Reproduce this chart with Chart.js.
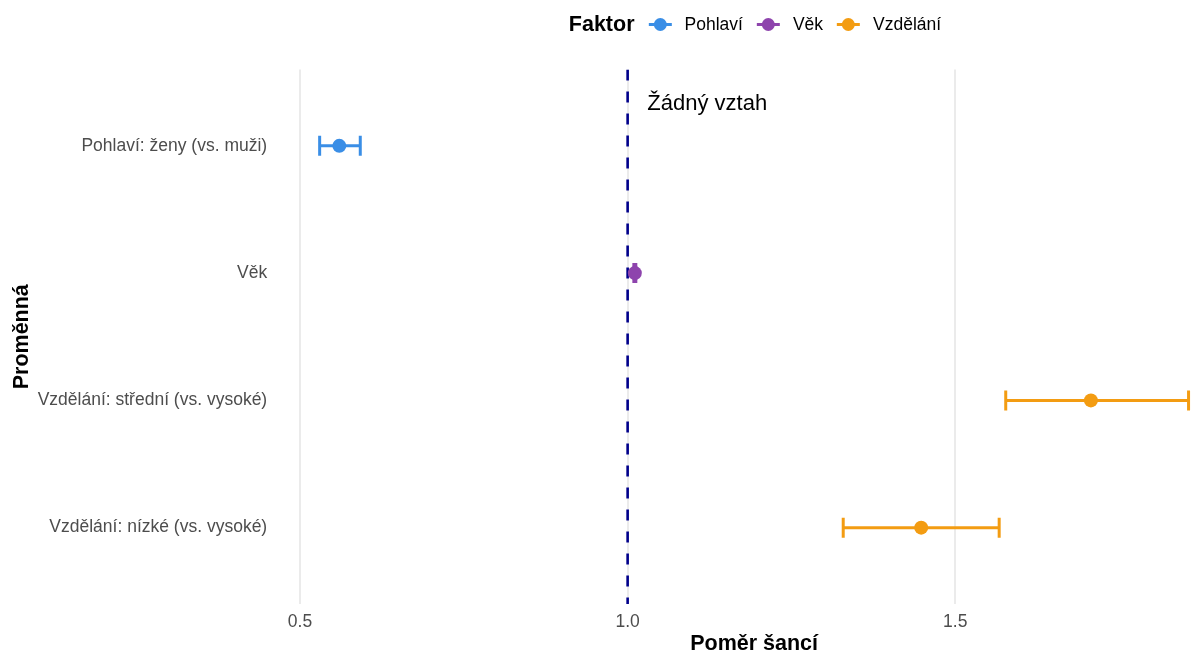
<!DOCTYPE html>
<html>
<head>
<meta charset="utf-8">
<script src="https://cdn.jsdelivr.net/npm/chart.js@4"></script>
<style>
  html, body { margin: 0; padding: 0; background: #fff; overflow: hidden; width: 1193px; height: 655px; }
  #wrap { position: relative; width: 1245px; height: 655px; }
  #legend { position: absolute; top: 12px; left: 755px; transform: translateX(-50%); display: flex; align-items: center; white-space: nowrap; font-family: 'Liberation Sans', Arial, sans-serif; }
  #legend .title { font-weight: bold; font-size: 21.5px; color: #000; margin-right: 14px; }
  #legend .item { display: flex; align-items: center; margin-right: 14px; font-size: 17.5px; color: #000; }
  #legend .item:last-child { margin-right: 0; }
  #legend .key { position: relative; width: 23px; height: 14px; margin-right: 13px; }
  #legend .key .ln { position: absolute; left: 0; right: 0; top: 5.5px; height: 3px; }
  #legend .key .pt { position: absolute; left: 5px; top: 0.5px; width: 13px; height: 13px; border-radius: 50%; }
</style>
</head>
<body>
<div id="wrap">
  <canvas id="c" width="1245" height="655"></canvas>
  <div id="legend"></div>
</div>
<script>
// ---- data ----
const categories = ['Pohlaví: ženy (vs. muži)', 'Věk', 'Vzdělání: střední (vs. vysoké)', 'Vzdělání: nízké (vs. vysoké)'];
const rowFactor = ['Pohlaví', 'Věk', 'Vzdělání', 'Vzdělání'];
const oddsRatio = [0.560, 1.011, 1.707, 1.448];
const ciLow = [0.530, 1.0095, 1.577, 1.329];
const ciHigh = [0.592, 1.0125, 1.856, 1.567];
const factorNames = ['Pohlaví', 'Věk', 'Vzdělání'];
const factorColors = ['#3a8ee6', '#8e44ad', '#f39c12'];
const xTicks = [0.5, 1.0, 1.5];
const xTickLabels = ['0.5', '1.0', '1.5'];
const legendTitle = 'Faktor';
const xTitle = 'Poměr šancí';
const yTitle = 'Proměnná';
const refLineX = 1;
const annotationText = 'Žádný vztah';
const annotationX = 1.03;
const annotationY = -0.33;

// ---- helpers ----
const colorOf = f => factorColors[factorNames.indexOf(f)];
const FONT = "'Liberation Sans', Arial, sans-serif";
const xMin = 0.4637, xMax = 1.9223;
const yMin = -0.6, yMax = categories.length - 1 + 0.6;

// HTML legend
const leg = document.getElementById('legend');
const t = document.createElement('span'); t.className = 'title'; t.textContent = legendTitle; leg.appendChild(t);
factorNames.forEach((n, i) => {
  const it = document.createElement('span'); it.className = 'item';
  const k = document.createElement('span'); k.className = 'key';
  const ln = document.createElement('span'); ln.className = 'ln'; ln.style.background = factorColors[i];
  const pt = document.createElement('span'); pt.className = 'pt'; pt.style.background = factorColors[i];
  k.appendChild(ln); k.appendChild(pt);
  const tx = document.createElement('span'); tx.textContent = n;
  it.appendChild(k); it.appendChild(tx); leg.appendChild(it);
});

const datasets = [];
// reference line
datasets.push({
  type: 'scatter', showLine: true, order: 10,
  data: [{x: refLineX, y: yMin}, {x: refLineX, y: yMax}],
  borderColor: '#00008b', borderWidth: 2.6, borderDash: [11, 11],
  pointRadius: 0, pointHoverRadius: 0
});
// error bars
categories.forEach((c, i) => {
  const col = colorOf(rowFactor[i]);
  datasets.push({
    type: 'scatter', showLine: true, order: 5,
    data: [{x: ciLow[i], y: i}, {x: ciHigh[i], y: i}],
    borderColor: col, borderWidth: 3,
    pointStyle: 'line', rotation: 90, pointRadius: 10, pointHoverRadius: 10,
    pointBorderColor: col, pointBorderWidth: 3, pointBackgroundColor: col
  });
});
// points
datasets.push({
  type: 'scatter', order: 1,
  data: categories.map((c, i) => ({x: oddsRatio[i], y: i})),
  pointRadius: 7, pointHoverRadius: 7, pointBorderWidth: 0,
  pointBackgroundColor: categories.map((c, i) => colorOf(rowFactor[i])),
  backgroundColor: categories.map((c, i) => colorOf(rowFactor[i]))
});

const annotationPlugin = {
  id: 'annot',
  afterDatasetsDraw(chart) {
    const {ctx, scales} = chart;
    ctx.save();
    ctx.font = '22px ' + FONT;
    ctx.fillStyle = '#000';
    ctx.textAlign = 'left';
    ctx.textBaseline = 'middle';
    ctx.fillText(annotationText, scales.x.getPixelForValue(annotationX), scales.y.getPixelForValue(annotationY));
    ctx.restore();
  }
};

new Chart(document.getElementById('c'), {
  type: 'scatter',
  data: { datasets },
  plugins: [annotationPlugin],
  options: {
    responsive: false, animation: false, devicePixelRatio: 1,
    layout: { padding: { left: 9, top: 69.5, right: 4.5, bottom: 0 } },
    plugins: { legend: { display: false }, tooltip: { enabled: false } },
    scales: {
      x: {
        type: 'linear', min: xMin, max: xMax,
        afterBuildTicks: s => { s.ticks = xTicks.map(v => ({value: v})); },
        afterFit: s => { s.height = 51; },
        ticks: {
          padding: 8, color: '#4d4d4d', font: { family: FONT, size: 17.5 },
          callback: (v) => xTickLabels[xTicks.indexOf(v)]
        },
        grid: { color: '#ebebeb', lineWidth: 2, drawTicks: false },
        border: { display: false },
        title: { display: true, text: xTitle, color: '#000', font: { family: FONT, size: 21.5, weight: 'bold', lineHeight: 1.0 }, padding: { top: 0, bottom: 0 } }
      },
      y: {
        type: 'linear', min: yMin, max: yMax, reverse: true,
        afterBuildTicks: s => { s.ticks = categories.map((c, i) => ({value: i})); },
        afterFit: s => { s.width = 267.2; },
        ticks: {
          padding: 9, color: '#4d4d4d', font: { family: FONT, size: 17.5 },
          callback: (v) => categories[v]
        },
        grid: { display: false, drawTicks: false },
        border: { display: false },
        title: { display: true, text: yTitle, color: '#000', font: { family: FONT, size: 21.5, weight: 'bold', lineHeight: 1.2 }, padding: { top: 0, bottom: 0 } }
      }
    }
  }
});
</script>
</body>
</html>
